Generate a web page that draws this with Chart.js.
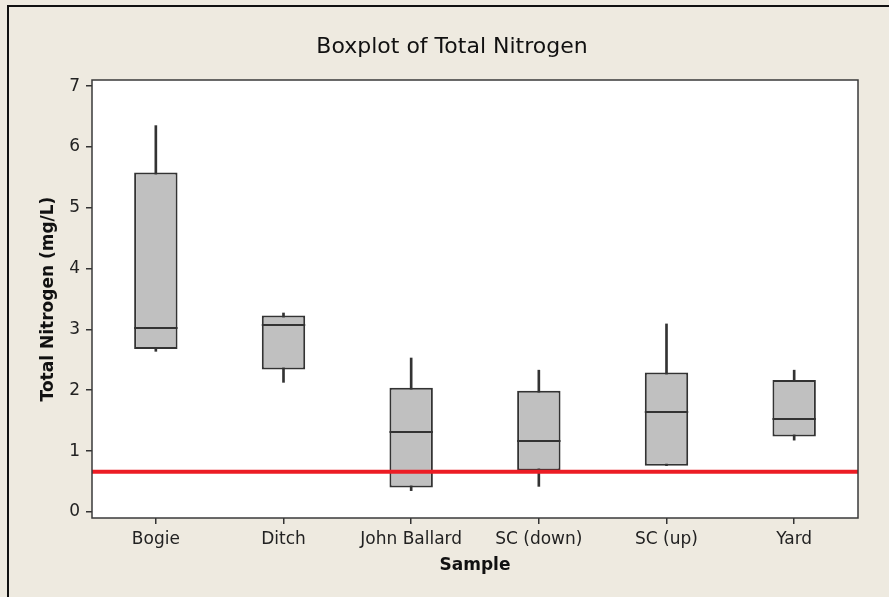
<!DOCTYPE html>
<html>
<head>
<meta charset="utf-8">
<script src="https://cdn.jsdelivr.net/npm/chart.js@4.4.1/dist/chart.umd.min.js"></script>
<style>
html,body{margin:0;padding:0;background:#EEEAE0;}
canvas{display:block;}
</style>
</head>
<body>
<canvas id="c" width="889" height="597"></canvas>
<script>
// ---- data ----
const categories = ['Bogie', 'Ditch', 'John Ballard', 'SC (down)', 'SC (up)', 'Yard'];
const whiskerLow  = [2.64, 2.13, 0.35, 0.42, 0.76, 1.18];
const q1Values    = [2.68, 2.34, 0.40, 0.68, 0.76, 1.24];
const medianValues= [3.03, 3.08, 1.32, 1.17, 1.65, 1.53];
const q3Values    = [5.58, 3.23, 2.04, 1.99, 2.29, 2.17];
const whiskerHigh = [6.35, 3.27, 2.53, 2.33, 3.09, 2.33];
const referenceLine = 0.66;
const yTickValues = [0, 1, 2, 3, 4, 5, 6, 7];

const whiskerData = categories.map((c, i) => [whiskerLow[i], whiskerHigh[i]]);
const boxData = categories.map((c, i) => [q1Values[i], q3Values[i]]);

const DARK = '#333333';

const decorPlugin = {
  id: 'decor',
  beforeDraw(chart) {
    const ctx = chart.ctx;
    const a = chart.chartArea;
    ctx.save();
    ctx.fillStyle = '#EEEAE0';
    ctx.fillRect(0, 0, chart.width, chart.height);
    // outer frame (left & top)
    ctx.strokeStyle = '#111111';
    ctx.lineWidth = 2;
    ctx.beginPath();
    ctx.moveTo(chart.width, 6);
    ctx.lineTo(8, 6);
    ctx.lineTo(8, chart.height);
    ctx.stroke();
    // plot area background
    ctx.fillStyle = '#FFFFFF';
    ctx.fillRect(a.left, a.top, a.right - a.left, a.bottom - a.top);
    ctx.restore();
  },
  afterDatasetsDraw(chart) {
    const ctx = chart.ctx;
    const a = chart.chartArea;
    const y = chart.scales.y;
    const meta = chart.getDatasetMeta(1);
    ctx.save();
    // medians
    ctx.strokeStyle = DARK;
    ctx.lineWidth = 2;
    meta.data.forEach((el, i) => {
      const py = Math.round(y.getPixelForValue(medianValues[i]));
      ctx.beginPath();
      ctx.moveTo(el.x - el.width / 2, py);
      ctx.lineTo(el.x + el.width / 2, py);
      ctx.stroke();
    });
    // reference line
    const ry = y.getPixelForValue(referenceLine);
    ctx.strokeStyle = '#EC1C24';
    ctx.lineWidth = 4;
    ctx.beginPath();
    ctx.moveTo(a.left, ry);
    ctx.lineTo(a.right, ry);
    ctx.stroke();
    // plot frame
    ctx.strokeStyle = '#3a3a3a';
    ctx.lineWidth = 1.5;
    ctx.strokeRect(a.left, a.top, a.right - a.left, a.bottom - a.top);
    ctx.restore();
  }
};

new Chart(document.getElementById('c'), {
  type: 'bar',
  data: {
    labels: categories,
    datasets: [
      {
        label: 'whiskers',
        data: whiskerData,
        backgroundColor: DARK,
        borderWidth: 0,
        barThickness: 2,
        grouped: false,
        order: 2
      },
      {
        label: 'boxes',
        data: boxData,
        backgroundColor: '#C0C0C0',
        borderColor: DARK,
        borderWidth: 2,
        borderSkipped: false,
        categoryPercentage: 1,
        barPercentage: 0.34,
        grouped: false,
        order: 1
      }
    ]
  },
  options: {
    responsive: false,
    animation: false,
    devicePixelRatio: 1,
    layout: { padding: { left: 46, right: 31, top: 0, bottom: 0 } },
    plugins: {
      legend: { display: false },
      tooltip: { enabled: false },
      title: {
        display: true,
        text: 'Boxplot of Total Nitrogen',
        color: '#111111',
        font: { family: 'DejaVu Sans', size: 22, weight: 'normal', lineHeight: 1.2 },
        padding: { top: 34, bottom: 19.6 }
      }
    },
    scales: {
      x: {
        type: 'category',
        offset: true,
        grid: { display: true, drawOnChartArea: false, offset: false, tickLength: 6, color: DARK, lineWidth: 1.5 },
        border: { display: false },
        ticks: { color: '#222222', padding: 5, font: { family: 'DejaVu Sans', size: 17 }, maxRotation: 0 },
        title: {
          display: true, text: 'Sample', color: '#111111',
          font: { family: 'DejaVu Sans', size: 17, weight: 'bold', lineHeight: 1.2 },
          padding: { top: 0, bottom: 21 }
        },
        afterFit(s) { s.height = 79; }
      },
      y: {
        type: 'linear',
        min: -0.1,
        max: 7.1,
        afterBuildTicks(s) { s.ticks = yTickValues.map(v => ({ value: v })); },
        grid: { display: true, drawOnChartArea: false, tickLength: 6, color: DARK, lineWidth: 1.5 },
        border: { display: false },
        ticks: { color: '#222222', padding: 6, font: { family: 'DejaVu Sans', size: 17 } },
        title: {
          display: true, text: 'Total Nitrogen (mg/L)', color: '#111111',
          font: { family: 'DejaVu Sans', size: 17, weight: 'bold', lineHeight: 1.2 },
          padding: { top: -8, bottom: 0 }
        },
        afterFit(s) { s.width = 46; }
      }
    }
  },
  plugins: [decorPlugin]
});
</script>
</body>
</html>
